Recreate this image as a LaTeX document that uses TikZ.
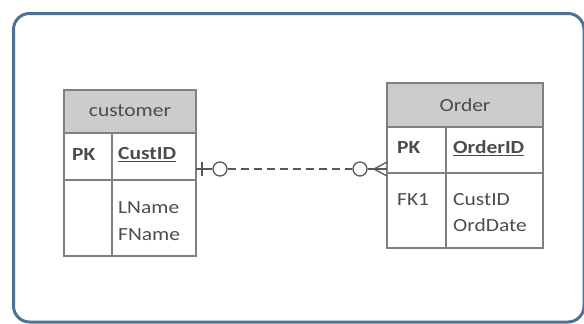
\documentclass[tikz,border=0pt]{standalone}
\usepackage{fontspec}
\setmainfont[FakeStretch=1.16]{Carlito}
\begin{document}
\begin{tikzpicture}[x=1pt,y=-1pt,
  tbl/.style={draw=black!50,line width=1.3pt},
  hdr/.style={fill=black!20},
  txt/.style={text=black!70,font=\fontsize{18.5}{22}\selectfont,inner sep=0pt},
  lbl/.style={txt,anchor=west},
  bld/.style={lbl,font=\bfseries\fontsize{18.5}{22}\selectfont},
  conn/.style={draw=black!65,line width=1.3pt}]
\useasboundingbox (0,0) rectangle (584,324);
\fill[white] (0,0) rectangle (584,324);
% frame
\draw[line width=3pt,draw={rgb,255:red,78;green,114;blue,150},rounded corners=16pt] (13.5,13.5) rectangle (584,322);
% customer table
\fill[black!20] (64,90) rectangle (196,133);
\draw[tbl] (64,90) rectangle (196,256);
\draw[tbl] (64,133) -- (196,133);
\draw[tbl] (64,180) -- (196,180);
\draw[tbl] (112,133) -- (112,256);
\node[txt] (cust) at (130,111) {customer};
\node[bld] (cpk) at (72,155) {PK};
\node[bld] (cid) at (118,155) {\underline{CustID}};
\node[lbl] (lname) at (118,208) {LName};
\node[lbl] (fname) at (118,235) {FName};
% order table
\fill[black!20] (387,83) rectangle (543,127);
\draw[tbl] (387,83) rectangle (543,248);
\draw[tbl] (387,127) -- (543,127);
\draw[tbl] (387,173) -- (543,173);
\draw[tbl] (446,127) -- (446,248);
\node[txt] (ord) at (465,105) {Order};
\node[bld] (opk) at (397,148) {PK};
\node[bld] (oid) at (453,148) {\underline{OrderID}};
\node[lbl] (fk) at (397,200) {FK1};
\node[lbl] (ocid) at (453,200) {CustID};
\node[lbl] (odate) at (453,225) {OrdDate};
% connector
\coordinate (a) at (196,169);
\coordinate (b) at (387,169);
\node[circle,draw=black!65,line width=1.3pt,minimum size=14pt,inner sep=0pt] (c1) at (220,169) {};
\node[circle,draw=black!65,line width=1.3pt,minimum size=14pt,inner sep=0pt] (c2) at (360,169) {};
\draw[conn] (a) -- (c1.west);
\draw[conn] (202,162) -- (202,176);
\draw[conn,dash pattern=on 8pt off 5pt] (c1.east) -- (c2.west);
\draw[conn] (c2.east) -- (b);
\draw[conn] (374,169) -- (387,162);
\draw[conn] (374,169) -- (387,176);
\end{tikzpicture}
\end{document}
